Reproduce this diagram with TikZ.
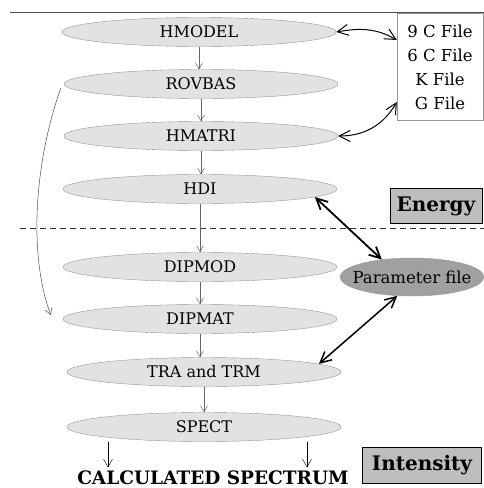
\documentclass[tikz,border=0pt]{standalone}
\usepackage{fontspec}
\setmainfont{DejaVu Serif}
\usetikzlibrary{arrows.meta, positioning, shapes.geometric, calc}
\definecolor{StepFill}{RGB}{226, 226, 226}
\definecolor{StepLine}{RGB}{150, 150, 150}
\definecolor{ParFill}{RGB}{160, 160, 160}
\definecolor{TagFill}{RGB}{190, 190, 190}

\begin{document}
\begin{tikzpicture}[
  x=1pt, y=-1pt,
  every node/.style={font=\fontsize{16}{18}\selectfont},
  stepell/.style={ellipse, draw=StepLine, fill=StepFill, inner sep=0pt,
                  minimum width=274pt, minimum height=29pt},
  tag/.style={draw=black, thick, fill=TagFill, inner sep=4pt,
              font=\fontsize{20}{22}\selectfont\bfseries},
  flowarr/.style={-{Straight Barb[length=6pt, width=7pt]}, draw=black!60, line width=0.5pt},
  dblarr/.style={{Straight Barb[length=11pt, width=11pt]}-{Straight Barb[length=11pt, width=11pt]},
                 draw=black, line width=1.3pt},
  outarr/.style={-{Straight Barb[length=8pt, width=9pt]}, draw=black, thin}
]
  \useasboundingbox (0,0) rectangle (484,488);

  % rules
  \draw[black!70, line width=0.8pt] (10,12) -- (484,12);
  \draw[black!80, dashed, dash pattern=on 6pt off 4pt] (20,228) -- (484,228);

  % program chain
  \node[stepell] (hmodel) at (199,32)  {HMODEL};
  \node[stepell] (rovbas) at (201,84)  {ROVBAS};
  \node[stepell] (hmatri) at (201,136) {HMATRI};
  \node[stepell] (hdi)    at (200,189) {HDI};
  \node[stepell] (dipmod) at (200,267) {DIPMOD};
  \node[stepell] (dipmat) at (200,319) {DIPMAT};
  \node[stepell] (tra)    at (204,372) {TRA and TRM};
  \node[stepell] (spect)  at (204,427) {SPECT};

  \node[font=\fontsize{18.5}{20}\selectfont\bfseries] (calc) at (213,478) {CALCULATED SPECTRUM};

  % input files and parameters
  \node[draw=StepLine, align=center, minimum width=86pt, minimum height=107pt,
        inner sep=2pt, font=\fontsize{16.5}{20}\selectfont] (files) at (440,67)
    {9 C File\\[4pt]6 C File\\[4pt]K File\\[4pt]G File};
  \node[ellipse, draw=StepLine, fill=ParFill, minimum width=144pt,
        minimum height=38pt, inner xsep=-12pt, inner ysep=0pt,
        font=\fontsize{16.5}{19}\selectfont] (param) at (412,277) {Parameter file};

  \node[tag, minimum width=92pt, minimum height=35pt] (energy) at (436,206) {Energy};
  \node[tag, minimum width=119pt, minimum height=36pt] (intens) at (422,465) {Intensity};

  \draw[flowarr] (hmodel) -- (hmodel |- rovbas.north);
  \draw[flowarr] (rovbas) -- (hmatri);
  \draw[flowarr] (hmatri) -- (hmatri |- hdi.north);
  \draw[flowarr] (hdi)    -- (dipmod);
  \draw[flowarr] (dipmod) -- (dipmat);
  \draw[flowarr] (dipmat) -- (dipmat |- tra.north);
  \draw[flowarr] (tra)    -- (tra |- spect.north);
  \draw[flowarr, draw=black!70] (rovbas.west) ++(-3,4) .. controls (32,170) and (30,260) .. ($(dipmat.west)+(-12,-4)$);

  \draw[dblarr, line width=1pt] (hmodel.east) to[out=10, in=150] (files.148);
  \draw[dblarr, line width=1pt] (hmatri.east) to[out=0, in=240] (files.219);
  \draw[dblarr, line width=1.8pt] (hdi.-4) -- (param.150);
  \draw[dblarr, line width=1.5pt] (param.232) -- (tra.4);

  \draw[outarr] (spect.south -| 108,0) -- (calc.north -| 108,0);
  \draw[outarr] (spect.south -| 307,0) -- (calc.north -| 307,0);
\end{tikzpicture}
\end{document}
